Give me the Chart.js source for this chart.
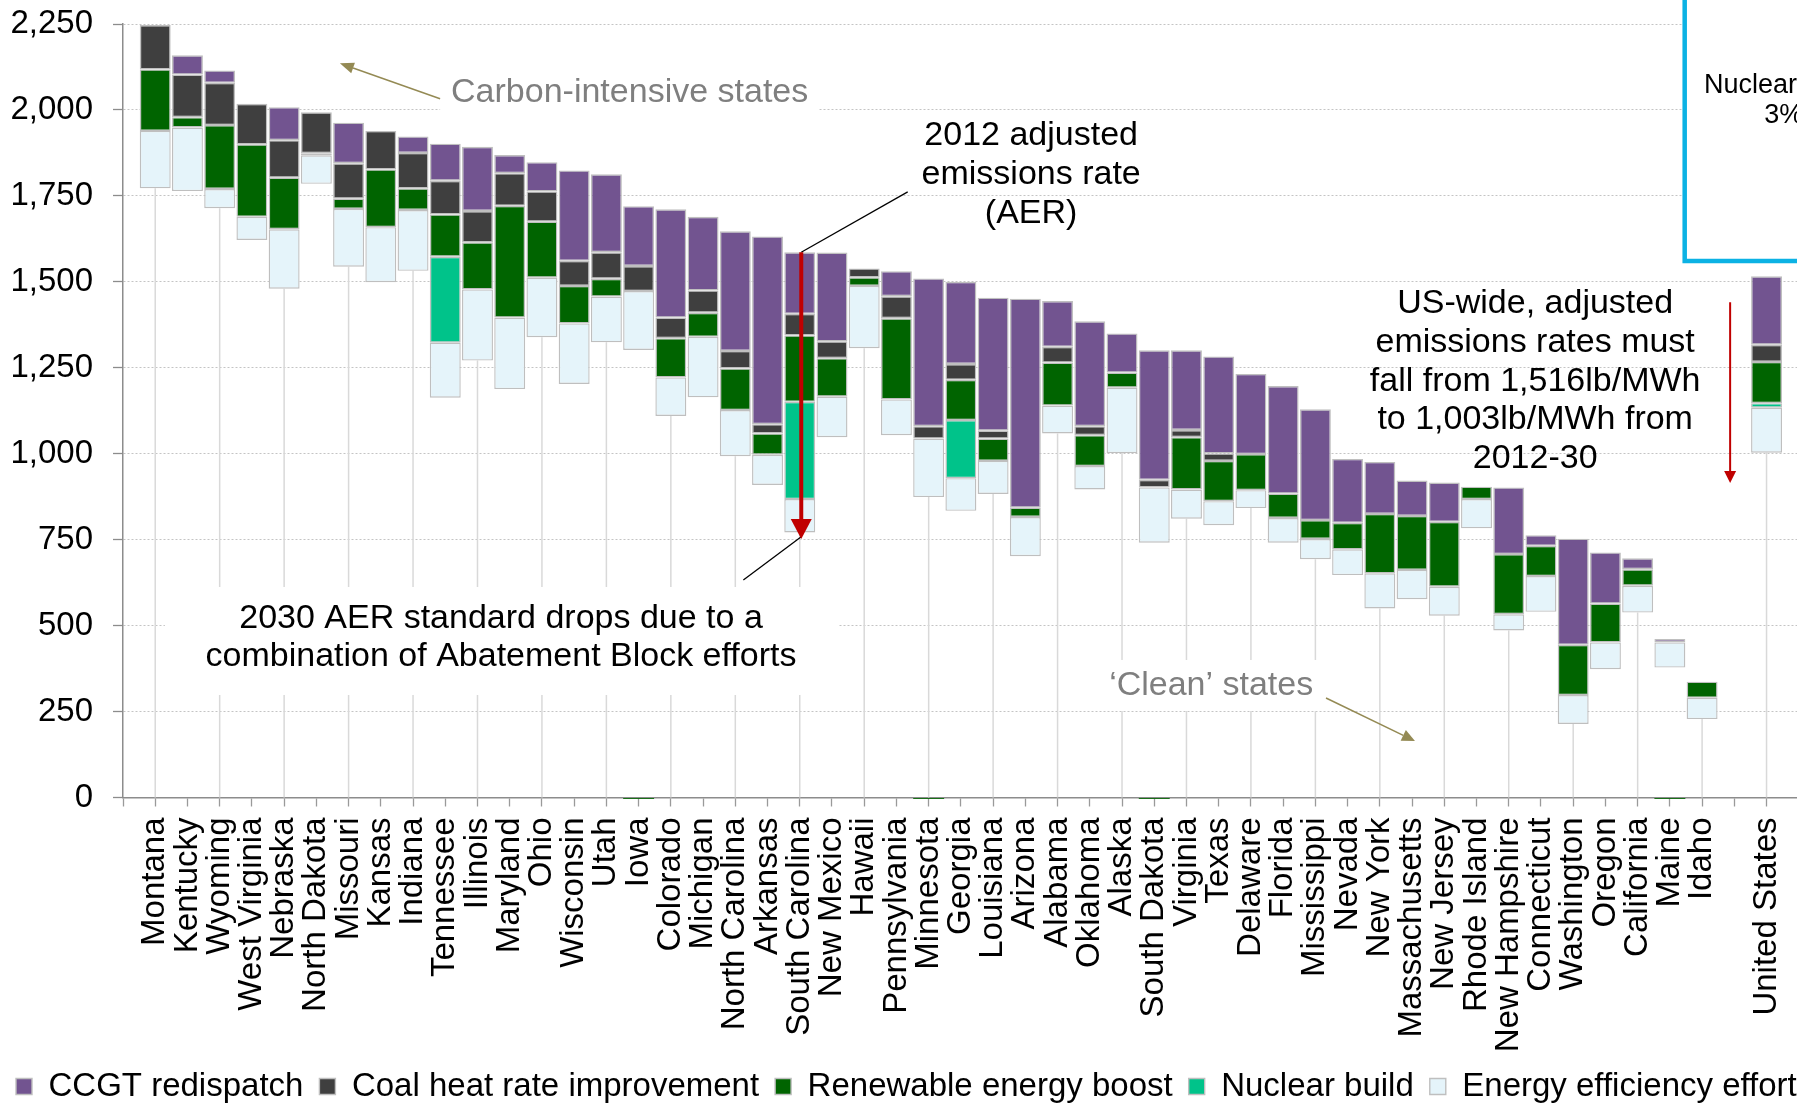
<!DOCTYPE html>
<html>
<head>
<meta charset="utf-8">
<script src="https://cdn.jsdelivr.net/npm/chart.js@4.4.1/dist/chart.umd.min.js"></script>
<style>
html,body{margin:0;padding:0;background:#fff;overflow:hidden;width:1797px;height:1113px;}
#wrap{position:absolute;left:0;top:0;width:1831px;height:1113px;}
canvas{display:block;}
</style>
</head>
<body>
<div id="wrap"><canvas id="c" width="1831" height="1113" style="width:1831px;height:1113px"></canvas></div>
<script>
// ---- Data (lb/MWh) ----
const categories = ['Montana','Kentucky','Wyoming','West Virginia','Nebraska','North Dakota','Missouri','Kansas','Indiana','Tennessee','Illinois','Maryland','Ohio','Wisconsin','Utah','Iowa','Colorado','Michigan','North Carolina','Arkansas','South Carolina','New Mexico','Hawaii','Pennsylvania','Minnesota','Georgia','Louisiana','Arizona','Alabama','Oklahoma','Alaska','South Dakota','Virginia','Texas','Delaware','Florida','Mississippi','Nevada','New York','Massachusetts','New Jersey','Rhode Island','New Hampshire','Connecticut','Washington','Oregon','California','Maine','Idaho','','United States'];

// 2030 adjusted emissions rate standard (invisible base of each bar)
const aer2030 = [1772,1764,1714,1622,1480,1785,1544,1499,1532,1163,1271,1188,1339,1203,1324,1302,1110,1164,993,909,771,1048,1307,1054,874,834,883,702,1059,896,1002,741,811,792,842,741,693,647,550,577,529,783,486,540,214,373,538,378,228,null,1003];
const energyEfficiency = [167,185,56,67,173,83,168,160,177,160,207,208,173,176,133,171,112,176,134,88,97,118,181,104,170,95,96,114,81,68,190,161,85,70,52,72,59,75,102,85,84,85,47,104,84,78,78,73,62,null,131];
const nuclearBuild = [null,null,null,null,null,null,null,null,null,250,null,null,null,null,null,null,null,null,null,null,283,null,null,null,null,169,null,null,null,null,null,null,null,null,null,null,null,null,null,null,null,null,null,null,null,null,null,null,null,null,13];
const renewableBoost = [179,30,186,211,150,6,30,168,63,123,137,325,163,109,52,-4,114,70,121,62,193,112,25,236,-4,117,65,27,125,90,44,-4,152,117,105,71,55,77,173,157,189,36,175,88,146,113,48,-4,47,null,120];
const coalHeatRate = [129,124,123,118,109,119,103,112,103,98,91,95,88,73,77,73,60,65,51,27,63,49,26,64,36,46,23,null,46,26,null,22,21,22,null,null,null,null,null,null,null,null,null,null,null,null,null,null,null,null,50];
const ccgtRedispatch = [null,56,36,null,96,null,118,null,48,108,187,53,85,263,227,174,315,214,348,546,179,258,null,73,430,239,387,608,133,305,114,377,232,282,233,313,322,186,151,103,114,null,194,31,309,149,32,10,null,null,199];
const yTicks = [0,250,500,750,1000,1250,1500,1750,2000,2250];

// ---- Build chart inputs ----
const FONT = "'Liberation Sans', Arial, sans-serif";
const labels = ['', ...categories, '', ''];
const pad = arr => [null, ...arr, null, null];
const bw = c => (c.raw != null && c.raw < 0) ? 0 : 1.4;

function mkSet(label, data, color) {
  return { label, data: pad(data), backgroundColor: color, borderColor: '#bfbfbf', borderWidth: bw,
           borderSkipped: false, barPercentage: 0.96, categoryPercentage: 1, clip: false };
}

const datasets = [
  { label: '2030 standard', data: pad(aer2030), backgroundColor: 'rgba(0,0,0,0)', borderWidth: 0,
    barPercentage: 0.96, categoryPercentage: 1 },
  mkSet('Energy efficiency efforts', energyEfficiency, '#e5f4fa'),
  mkSet('Nuclear build', nuclearBuild, '#00c38a'),
  mkSet('Renewable energy boost', renewableBoost, '#006400'),
  mkSet('Coal heat rate improvement', coalHeatRate, '#3f3f3f'),
  mkSet('CCGT redispatch', ccgtRedispatch, '#725490')
];

function total(k) {
  return [aer2030, energyEfficiency, nuclearBuild, renewableBoost, coalHeatRate, ccgtRedispatch]
    .reduce((s, a) => s + (a[k] != null && a[k] > 0 ? a[k] : 0), 0);
}

function arrow(ctx, x1, y1, x2, y2, color, lw, headLen, headW) {
  const ang = Math.atan2(y2 - y1, x2 - x1);
  const bx = x2 - headLen * Math.cos(ang), by = y2 - headLen * Math.sin(ang);
  ctx.strokeStyle = color; ctx.lineWidth = lw;
  ctx.beginPath(); ctx.moveTo(x1, y1); ctx.lineTo(bx, by); ctx.stroke();
  ctx.fillStyle = color; ctx.beginPath(); ctx.moveTo(x2, y2);
  ctx.lineTo(bx + headW / 2 * Math.sin(ang), by - headW / 2 * Math.cos(ang));
  ctx.lineTo(bx - headW / 2 * Math.sin(ang), by + headW / 2 * Math.cos(ang));
  ctx.closePath(); ctx.fill();
}

const scIdx = categories.indexOf('South Carolina') + 1;

const annot = {
  id: 'annot',
  beforeDatasetsDraw(chart) {
    const { ctx, scales: { x, y } } = chart;
    const X = i => x.getPixelForValue(i), Y = v => y.getPixelForValue(v);
    ctx.save();
    // light vertical drop lines under every other bar
    ctx.strokeStyle = '#d9d9d9'; ctx.lineWidth = 1.5;
    aer2030.forEach((b, k) => {
      const i = k + 1;
      if (b == null || i % 2 === 0) return;
      ctx.beginPath(); ctx.moveTo(X(i), Y(0)); ctx.lineTo(X(i), Y(b)); ctx.stroke();
    });
    // white label boxes
    ctx.fillStyle = '#fff';
    const box = (i1, v1, i2, v2) => ctx.fillRect(X(i1), Y(v1), X(i2) - X(i1), Y(v2) - Y(v1));
    box(9.84, 2145, 21.6, 1976);
    box(1.30, 612.3, 22.19, 298.2);
    box(30.16, 400, 37.61, 251.6);
    // cyan framed panel (top right)
    const cx = X(48.46), cy = Y(1560.6);
    ctx.fillRect(cx, -20, 400, cy + 20);
    ctx.strokeStyle = '#0cb2e4'; ctx.lineWidth = 4.5;
    ctx.strokeRect(cx, -20, 400, cy + 20);
    ctx.restore();
  },
  afterDatasetsDraw(chart) {
    const { ctx, scales: { x, y } } = chart;
    const X = i => x.getPixelForValue(i), Y = v => y.getPixelForValue(v);
    ctx.save();
    ctx.textBaseline = 'alphabetic';
    // Carbon-intensive states
    ctx.font = '34px ' + FONT; ctx.fillStyle = '#7f7f7f'; ctx.textAlign = 'left';
    ctx.fillText('Carbon-intensive states', X(10.18), Y(2024.5));
    arrow(ctx, X(9.84), Y(2032.7), X(6.73), Y(2135.6), '#948a54', 1.5, 14, 11);
    // 'Clean' states
    ctx.fillStyle = '#7f7f7f';
    ctx.fillText('\u2018Clean\u2019 states', X(30.6), Y(298.2));
    arrow(ctx, X(37.33), Y(289.4), X(40.09), Y(164.3), '#948a54', 1.5, 13, 12);
    // 2012 AER label
    ctx.fillStyle = '#000'; ctx.textAlign = 'center';
    ['2012 adjusted', 'emissions rate', '(AER)'].forEach((t, k) =>
      ctx.fillText(t, X(28.18), Y([1898, 1785, 1672][k])));
    const scX = X(scIdx) + 1.5, scTop = total(scIdx - 1);
    ctx.strokeStyle = '#000'; ctx.lineWidth = 1.3;
    ctx.beginPath(); ctx.moveTo(X(24.35), Y(1761.6)); ctx.lineTo(scX, Y(scTop)); ctx.stroke();
    // 2030 label
    ctx.fillStyle = '#000';
    ctx.fillText('2030 AER standard drops due to a', X(11.73), Y(492));
    ctx.fillText('combination of Abatement Block efforts', X(11.73), Y(382.5));
    ctx.beginPath(); ctx.moveTo(X(19.25), Y(632.7)); ctx.lineTo(scX, Y(758.6)); ctx.stroke();
    // SC thick red arrow
    arrow(ctx, scX, Y(scTop), scX, Y(752), '#c00000', 4, 20, 21);
    // US-wide text
    ctx.fillStyle = '#000'; ctx.textAlign = 'center';
    ['US-wide, adjusted', 'emissions rates must', 'fall from 1,516lb/MWh', 'to 1,003lb/MWh from', '2012-30']
      .forEach((t, k) => ctx.fillText(t, X(43.82), Y([1409.3, 1296.5, 1183.6, 1070.7, 957.9][k])));
    arrow(ctx, X(49.87), Y(1440.6), X(49.87), Y(914.8), '#c00000', 2, 12, 12);
    // Cyan panel text
    ctx.font = '27px ' + FONT; ctx.fillStyle = '#000'; ctx.textAlign = 'left';
    ctx.fillText('Nuclear', X(49.06), Y(2048.4));
    ctx.fillText('3%', X(50.93), Y(1961));
    ctx.restore();
  }
};

Chart.defaults.font.family = FONT;

new Chart(document.getElementById('c'), {
  type: 'bar',
  data: { labels, datasets },
  plugins: [annot],
  options: {
    responsive: false,
    animation: false,
    devicePixelRatio: 1,
    events: [],
    layout: { padding: { top: 24, left: 0, right: 0, bottom: 0 } },
    plugins: {
      legend: {
        position: 'bottom', align: 'start', reverse: true,
        labels: { filter: it => it.datasetIndex !== 0, boxWidth: 16, boxHeight: 16, padding: 16,
                  color: '#000', font: { size: 33, family: FONT } }
      },
      tooltip: { enabled: false },
      title: { display: false }
    },
    scales: {
      x: {
        type: 'category', stacked: true, offset: false,
        grid: { offset: false, drawOnChartArea: false, drawTicks: true, tickLength: 9,
                tickColor: '#9a9a9a', tickWidth: 1.3 },
        border: { color: '#8c8c8c', width: 1.5 },
        ticks: { autoSkip: false, minRotation: 90, maxRotation: 90, padding: 11, color: '#000',
                 font: { size: 33, family: FONT } },
        afterFit: s => {
          const lh = s.chart.legend ? s.chart.legend.height : 59;
          s.height = s.chart.height - 797.5 - lh;
          s.paddingLeft = 0; s.paddingRight = 0;
        }
      },
      y: {
        stacked: true, min: 0, max: 2250,
        afterBuildTicks: s => { s.ticks = yTicks.map(v => ({ value: v })); },
        ticks: { padding: 20, color: '#000', font: { size: 33, family: FONT },
                 callback: v => Number(v).toLocaleString('en-US') },
        grid: { color: '#c4c4c4', lineWidth: 1, tickLength: 10, tickColor: '#8c8c8c', tickWidth: 1.3,
                tickBorderDash: [] },
        border: { color: '#8c8c8c', width: 1.5, dash: [2, 2] },
        afterFit: s => { s.width = 123; s.paddingTop = 0; s.paddingBottom = 0; }
      }
    }
  }
});
</script>
</body>
</html>
